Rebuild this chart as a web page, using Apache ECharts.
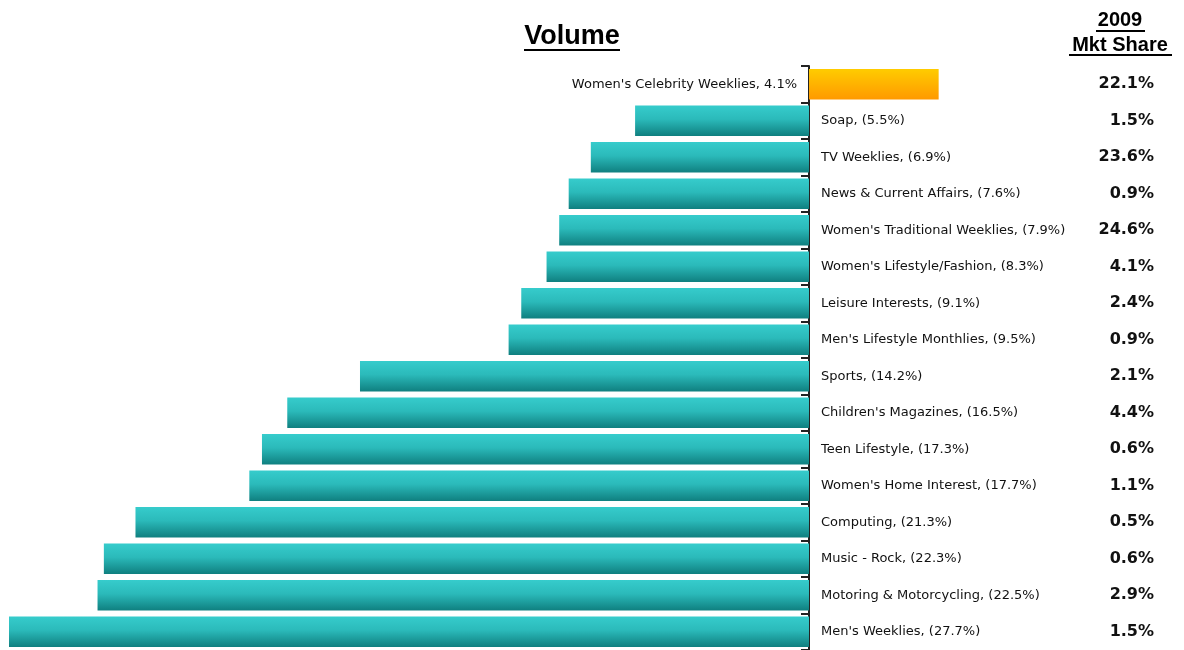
<!DOCTYPE html>
<html>
<head>
<meta charset="utf-8">
<script src="https://cdn.jsdelivr.net/npm/echarts@6/dist/echarts.min.js"></script>
<style>
  html, body { margin: 0; padding: 0; background: #fff; }
  #container { width: 1184px; height: 650px; }
</style>
</head>
<body>
<div id="container"></div>
<script>
var categories = [
    "Women's Celebrity Weeklies", 'Soap', 'TV Weeklies', 'News & Current Affairs',
    "Women's Traditional Weeklies", "Women's Lifestyle/Fashion", 'Leisure Interests',
    "Men's Lifestyle Monthlies", 'Sports', "Children's Magazines", 'Teen Lifestyle',
    "Women's Home Interest", 'Computing', 'Music - Rock', 'Motoring & Motorcycling',
    "Men's Weeklies"
];
var volumeChange = [4.1, -5.5, -6.9, -7.6, -7.9, -8.3, -9.1, -9.5, -14.2, -16.5, -17.3, -17.7, -21.3, -22.3, -22.5, -27.7];
var mktShare = [22.1, 1.5, 23.6, 0.9, 24.6, 4.1, 2.4, 0.9, 2.1, 4.4, 0.6, 1.1, 0.5, 0.6, 2.9, 1.5];

var dom = document.getElementById('container');
var myChart = echarts.init(dom);

var labelFont = '"DejaVu Sans", Verdana, sans-serif';

var tealGrad = new echarts.graphic.LinearGradient(0, 0, 0, 1, [
    { offset: 0, color: '#36cccc' },
    { offset: 0.45, color: '#2bbaba' },
    { offset: 1, color: '#0f7f7f' }
]);
var orangeGrad = new echarts.graphic.LinearGradient(0, 0, 0, 1, [
    { offset: 0, color: '#ffcc00' },
    { offset: 1, color: '#ff9900' }
]);

var barData = volumeChange.map(function (v, i) {
    if (v >= 0) {
        return {
            value: v,
            itemStyle: { color: orangeGrad },
            label: { position: 'left', formatter: '{b}, {c}%' }
        };
    }
    return {
        value: v,
        label: { position: 'right', formatter: '{b}, (' + Math.abs(v).toFixed(1) + '%)' }
    };
});

var option = {
    backgroundColor: '#ffffff',
    animation: false,
    graphic: [
        { type: 'text', x: 572, y: 37, style: { text: 'Volume', align: 'center', verticalAlign: 'middle', font: 'bold 27px "Liberation Sans", Arial, sans-serif', fill: '#000' } },
        { type: 'line', shape: { x1: 524, y1: 50, x2: 620, y2: 50 }, style: { stroke: '#000', lineWidth: 2 } },
        { type: 'text', x: 1120, y: 20, style: { text: '2009', align: 'center', verticalAlign: 'middle', font: 'bold 20px "Liberation Sans", Arial, sans-serif', fill: '#000' } },
        { type: 'line', shape: { x1: 1096, y1: 31, x2: 1145, y2: 31 }, style: { stroke: '#000', lineWidth: 2 } },
        { type: 'text', x: 1120, y: 45, style: { text: 'Mkt Share', align: 'center', verticalAlign: 'middle', font: 'bold 20px "Liberation Sans", Arial, sans-serif', fill: '#000' } },
        { type: 'line', shape: { x1: 1069, y1: 55, x2: 1172, y2: 55 }, style: { stroke: '#000', lineWidth: 2 } }
    ],
    grid: {
        left: 9,
        right: 24,
        top: 66,
        bottom: -3,
        containLabel: false
    },
    xAxis: {
        type: 'value',
        min: -25.3,
        max: 11.1,
        show: false
    },
    yAxis: [{
        type: 'category',
        inverse: true,
        data: categories,
        axisLine: { onZero: true, lineStyle: { color: '#222', width: 2 } },
        axisTick: { show: true, length: 8, lineStyle: { color: '#222', width: 2 } },
        axisLabel: { show: false },
        splitLine: { show: false }
    }, {
        type: 'category',
        inverse: true,
        position: 'right',
        data: mktShare.map(function (v) { return v.toFixed(1) + '%'; }),
        axisLine: { show: false },
        axisTick: { show: false },
        axisLabel: {
            inside: true,
            margin: 6,
            color: '#111',
            fontWeight: 'bold',
            fontFamily: labelFont,
            fontSize: 16,
            padding: [0, 0, 8, 0]
        },
        splitLine: { show: false }
    }],
    series: [{
        type: 'bar',
        yAxisIndex: 0,
        data: barData,
        barCategoryGap: '16%',
        clip: true,
        itemStyle: { color: tealGrad },
        label: {
            show: true,
            distance: 12,
            color: '#111',
            fontFamily: labelFont,
            fontSize: 13
        }
    }]
};

if (option && typeof option === 'object') {
    myChart.setOption(option, true);
}
</script>
</body>
</html>
